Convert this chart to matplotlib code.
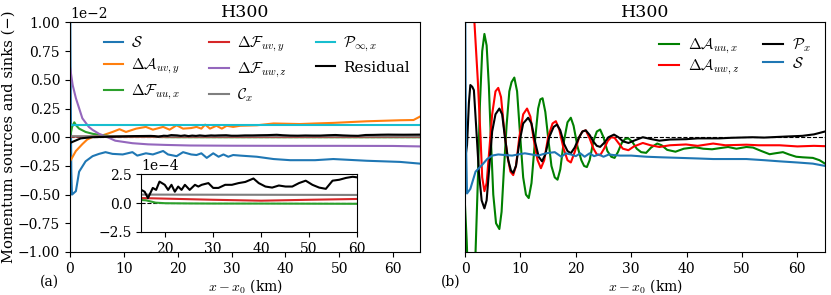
import matplotlib

matplotlib.use("Agg")

import matplotlib.pyplot as plt
import numpy as np

plt.rcParams["font.family"] = "serif"
plt.rcParams["font.serif"] = ["DejaVu Serif"]
plt.rcParams["mathtext.fontset"] = "cm"
plt.rcParams["font.size"] = 10

# ---------------- panel (a): values in units of 1e-2 ----------------
x_s = [0.0, 0.15, 0.25, 0.37, 1.1, 1.7, 2.9, 4.2, 5.4, 6.6, 7.9, 9.8, 11.6, 12.5,
       14.1, 15.4, 17.3, 18.2, 19.8, 21.0, 22.5, 23.5, 24.4, 25.4, 26.6, 27.6,
       28.5, 29.4, 30.3, 31.6, 34.7, 37.8, 40.9, 45.5, 48.9, 55.1, 61.3, 65.0]
s_a = [1.5, 0.3, -0.3, -0.5, -0.47, -0.30, -0.21, -0.165, -0.145, -0.13, -0.145,
       -0.15, -0.13, -0.16, -0.14, -0.15, -0.12, -0.15, -0.165, -0.13, -0.15,
       -0.155, -0.14, -0.18, -0.14, -0.17, -0.15, -0.17, -0.155, -0.16, -0.17,
       -0.19, -0.2, -0.2, -0.19, -0.205, -0.215, -0.23]

x_auv = [0.0, 0.5, 1.1, 2.3, 3.2, 4.2, 6.1, 7.9, 9.2, 10.4, 12.3, 14.1, 15.4, 17.3,
         18.5, 19.8, 21.0, 22.5, 23.5, 24.4, 25.1, 26.0, 27.2, 28.2, 29.1, 30.3,
         31.6, 34.7, 37.8, 42.7, 45.5, 48.9, 55.1, 61.3, 63.8, 65.0]
a_uvy = [-0.21, -0.17, -0.12, -0.06, -0.02, 0.003, 0.017, 0.046, 0.07, 0.046, 0.075,
         0.09, 0.066, 0.09, 0.066, 0.104, 0.075, 0.08, 0.09, 0.075, 0.11, 0.075,
         0.1, 0.075, 0.1, 0.09, 0.1, 0.104, 0.12, 0.115, 0.12, 0.125, 0.139, 0.148,
         0.15, 0.18]

x_fuw = [0.0, 0.5, 1.1, 2.3, 3.5, 4.2, 5.4, 6.7, 8.4, 11.6, 14.5, 17.8, 22.3, 30.0,
         40.0, 50.0, 60.0, 65.0]
f_uwz = [0.615, 0.455, 0.34, 0.165, 0.09, 0.064, 0.03, 0.006, -0.03, -0.052, -0.062,
         -0.067, -0.072, -0.074, -0.075, -0.075, -0.076, -0.08]

x_pinf = [0.0, 65.0]
p_inf = [0.105, 0.105]

# ---------------- small terms: values in units of 1e-4 ----------------
x_fuu = [0.0, 0.4, 0.8, 1.2, 1.7, 2.9, 4.2, 6.0, 8.0, 10.0, 15.0, 16.0, 17.0, 18.0,
         20.0, 25.0, 30.0, 40.0, 50.0, 60.0, 65.0]
f_uux = [0.0, 9.0, 13.0, 10.0, 7.5, 4.6, 3.0, 1.7, 0.8, 0.5, 0.28, 0.25, 0.15, 0.05,
         0.0, -0.02, -0.03, -0.03, -0.04, -0.05, -0.05]

x_fuv = [0.0, 15.0, 20.0, 30.0, 40.0, 50.0, 60.0, 65.0]
f_uvy = [0.5, 0.45, 0.4, 0.3, 0.22, 0.3, 0.37, 0.38]

x_cx = [0.0, 15.0, 60.0, 65.0]
c_x = [0.8, 0.75, 0.72, 0.72]

x_res = [0.0, 1.0, 2.0, 4.0, 8.0, 12.0, 15.0, 15.7, 16.4, 17.4, 18.1, 18.8, 19.9,
         20.6, 21.3, 22.0, 22.7, 23.4, 24.1, 25.1, 26.2, 26.9, 27.6, 29.0, 30.0,
         31.1, 32.5, 33.9, 35.3, 36.7, 38.4, 39.5, 40.9, 42.3, 43.7, 45.1, 46.5,
         47.9, 49.3, 50.7, 52.1, 53.5, 54.9, 56.3, 57.7, 59.1, 60.0, 62.0, 65.0]
resid = [-5.0, -3.0, -1.0, 0.0, 0.5, 1.0, 1.16, 1.0, 0.45, 1.33, 1.16, 1.88, 1.6,
         1.16, 1.6, 1.0, 1.45, 1.16, 1.6, 1.16, 1.6, 1.45, 1.6, 1.75, 1.33, 1.33,
         1.6, 1.6, 1.75, 1.85, 2.15, 1.75, 1.45, 1.36, 1.54, 1.45, 1.45, 1.75, 1.96,
         1.6, 1.36, 1.25, 1.96, 2.04, 2.2, 2.3, 2.25, 2.2, 2.3]

# ---------------- panel (b): values in units of 1e-2 ----------------
x_auu = [0.0, 0.3, 0.6, 1.0, 1.5, 1.9, 2.3, 2.7, 3.1, 3.5, 3.9, 4.3, 4.7, 5.1, 5.6,
         6.2, 6.6, 7.0, 7.5, 8.0, 8.4, 8.9, 9.4, 9.9, 10.5, 11.0, 11.5, 12.0, 12.6,
         13.2, 13.6, 14.0, 14.5, 15.0, 15.6, 16.2, 16.7, 17.2, 17.8, 18.5, 19.1,
         19.6, 20.3, 21.0, 21.5, 22.0, 22.5, 23.2, 23.8, 24.4, 25.0, 25.7, 26.4,
         27.0, 27.6, 28.3, 28.9, 29.5, 30.2, 31.0, 31.8, 32.7, 33.6, 34.7, 35.5,
         36.5, 38.0, 39.5, 41.6, 43.0, 44.6, 46.0, 47.5, 49.0, 50.8, 52.0, 53.5,
         55.0, 56.0, 57.4, 58.5, 59.8, 61.0, 62.8, 64.0, 65.0]
a_uux = [-0.6, -0.9, -1.3, -1.6, -1.4, -1.0, -0.4, 0.3, 0.75, 0.9, 0.8, 0.45, -0.05,
         -0.5, -0.75, -0.8, -0.65, -0.3, 0.1, 0.4, 0.48, 0.52, 0.4, 0.05, -0.35,
         -0.5, -0.53, -0.4, -0.05, 0.25, 0.33, 0.34, 0.22, 0.0, -0.25, -0.35, -0.37,
         -0.28, -0.05, 0.13, 0.17, 0.1, -0.08, -0.2, -0.25, -0.26, -0.2, -0.03,
         0.05, 0.067, 0.0, -0.12, -0.17, -0.18, -0.13, -0.05, -0.015, -0.01, -0.04,
         -0.1, -0.13, -0.136, -0.09, -0.055, -0.07, -0.11, -0.126, -0.1, -0.087,
         -0.1, -0.105, -0.095, -0.085, -0.1, -0.085, -0.09, -0.12, -0.148, -0.14,
         -0.13, -0.15, -0.17, -0.175, -0.18, -0.2, -0.23]

x_auw = [0.0, 0.3, 1.0, 1.7, 2.3, 2.8, 3.1, 3.5, 3.9, 4.4, 4.9, 5.5, 6.0, 6.5, 7.0,
         7.6, 8.2, 8.7, 9.2, 9.8, 10.5, 11.2, 11.8, 12.4, 13.1, 13.7, 14.3, 15.0,
         15.8, 16.4, 17.0, 17.8, 18.5, 19.1, 19.8, 20.6, 21.2, 21.8, 22.5, 23.2,
         23.8, 24.4, 25.1, 25.8, 26.4, 27.0, 27.7, 28.5, 29.5, 30.5, 32.1, 33.5,
         35.1, 37.0, 39.9, 42.0, 44.8, 47.0, 50.8, 53.0, 56.8, 60.0, 63.0, 65.0]
a_uwz = [4.0, 3.0, 1.8, 1.0, 0.5, 0.0, -0.35, -0.47, -0.4, -0.1, 0.2, 0.4, 0.43,
         0.35, 0.1, -0.15, -0.3, -0.33, -0.25, 0.0, 0.2, 0.25, 0.18, -0.02, -0.2,
         -0.27, -0.2, 0.0, 0.12, 0.14, 0.07, -0.1, -0.2, -0.22, -0.13, 0.0, 0.05,
         0.06, -0.01, -0.1, -0.15, -0.157, -0.1, -0.03, 0.0, -0.005, -0.05, -0.1,
         -0.113, -0.08, -0.05, -0.07, -0.085, -0.07, -0.063, -0.075, -0.055, -0.07,
         -0.065, -0.07, -0.07, -0.08, -0.075, -0.078]

x_px = [0.0, 0.36, 0.7, 0.96, 1.3, 1.6, 2.0, 2.5, 3.0, 3.5, 3.9, 4.4, 4.9, 5.5, 6.2,
        6.7, 7.2, 7.8, 8.3, 8.7, 9.2, 9.8, 10.5, 11.4, 12.0, 12.7, 13.3, 13.9, 14.5,
        15.2, 16.0, 16.6, 17.2, 17.9, 18.5, 19.1, 19.8, 20.6, 21.2, 21.8, 22.5,
        23.2, 23.8, 24.4, 25.1, 25.9, 26.9, 27.7, 28.5, 29.5, 30.5, 32.1, 33.5,
        35.1, 37.0, 39.9, 42.0, 45.9, 48.0, 51.9, 54.0, 57.9, 60.9, 63.0, 65.0]
p_x = [-0.2, -0.07, 0.3, 0.455, 0.44, 0.41, 0.1, -0.3, -0.55, -0.62, -0.55, -0.25,
       0.05, 0.2, 0.25, 0.2, 0.0, -0.2, -0.29, -0.31, -0.25, -0.05, 0.12, 0.17,
       0.12, -0.05, -0.17, -0.21, -0.15, 0.0, 0.09, 0.11, 0.06, -0.06, -0.12, -0.14,
       -0.09, 0.0, 0.05, 0.06, 0.02, -0.04, -0.075, -0.084, -0.05, 0.0, 0.023, 0.0,
       -0.035, -0.05, -0.03, 0.0, -0.015, -0.03, -0.02, -0.017, -0.01, -0.01,
       -0.005, 0.0, -0.003, 0.006, 0.012, 0.025, 0.05]

x_sb = [0.0, 0.1, 0.2, 0.36, 0.96, 1.9, 3.1, 4.0, 4.9, 6.0, 7.2, 8.5, 9.6, 10.8,
        12.0, 13.2, 14.6, 16.2, 17.4, 18.2, 19.1, 20.0, 20.8, 21.6, 22.5, 23.3,
        24.2, 25.0, 26.0, 26.8, 28.0, 30.0, 32.8, 35.5, 38.8, 42.0, 44.8, 50.8,
        54.0, 56.8, 60.0, 62.8, 65.0]
s_b = [1.5, 0.5, -0.1, -0.49, -0.45, -0.3, -0.24, -0.19, -0.16, -0.15, -0.155,
       -0.16, -0.15, -0.14, -0.15, -0.16, -0.14, -0.13, -0.17, -0.14, -0.15, -0.165,
       -0.14, -0.17, -0.14, -0.165, -0.15, -0.17, -0.15, -0.155, -0.16, -0.16,
       -0.17, -0.175, -0.18, -0.185, -0.19, -0.19, -0.2, -0.21, -0.22, -0.23, -0.25]

E2 = 1e-2
E4 = 1e-4

fig = plt.figure(figsize=(8.31, 2.95), dpi=100)
ax1 = fig.add_axes([0.0842, 0.1458, 0.4212, 0.778])
ax2 = fig.add_axes([0.5596, 0.1458, 0.4332, 0.778], sharey=ax1)

# panel (a)
ax1.axhline(0, color="k", ls="--", lw=0.8)
ax1.plot(x_s, np.array(s_a) * E2, color="C0", label=r"$\mathcal{S}$")
ax1.plot(x_auv, np.array(a_uvy) * E2, color="C1", label=r"$\Delta\mathcal{A}_{uv,y}$")
ax1.plot(x_fuu, np.array(f_uux) * E4, color="C2", label=r"$\Delta\mathcal{F}_{uu,x}$")
ax1.plot(x_fuv, np.array(f_uvy) * E4, color="C3", label=r"$\Delta\mathcal{F}_{uv,y}$")
ax1.plot(x_fuw, np.array(f_uwz) * E2, color="C4", label=r"$\Delta\mathcal{F}_{uw,z}$")
ax1.plot(x_cx, np.array(c_x) * E4, color="C7", label=r"$\mathcal{C}_x$")
ax1.plot(x_pinf, np.array(p_inf) * E2, color="C9", label=r"$\mathcal{P}_{\infty,x}$")
ax1.plot(x_res, np.array(resid) * E4, color="k", label="Residual")
ax1.set_xlim(0, 65)
ax1.set_ylim(-0.01, 0.01)
ax1.set_yticks(np.arange(-1.0, 1.01, 0.25) * E2)
ax1.ticklabel_format(axis="y", style="sci", scilimits=(0, 0))
ax1.set_title("H300", fontsize=12.5, pad=4)
ax1.set_xlabel(r"$x-x_0$ (km)", labelpad=1)
ax1.set_ylabel("Momentum sources and sinks (−)", fontsize=10.6, labelpad=2)
ax1.legend(ncol=3, frameon=False, loc="upper right", fontsize=11,
           bbox_to_anchor=(1.01, 1.005), handlelength=1.3, handletextpad=0.5,
           columnspacing=1.9, labelspacing=0.42)

# inset
axin = fig.add_axes([0.170, 0.2136, 0.2596, 0.195])
axin.axhline(0, color="k", ls="--", lw=0.8)
axin.plot(x_fuu, np.array(f_uux) * E4, color="C2")
axin.plot(x_fuv, np.array(f_uvy) * E4, color="C3")
axin.plot(x_cx, np.array(c_x) * E4, color="C7")
axin.plot(x_res, np.array(resid) * E4, color="k")
axin.set_xlim(15, 60)
axin.set_ylim(-2.5e-4, 2.5e-4)
axin.set_yticks([-2.5e-4, 0.0, 2.5e-4])
axin.set_xticks([20, 30, 40, 50, 60])
axin.ticklabel_format(axis="y", style="sci", scilimits=(0, 0))

# panel (b)
ax2.axhline(0, color="k", ls="--", lw=0.8)
ax2.plot(x_auu, np.array(a_uux) * E2, color="green", label=r"$\Delta\mathcal{A}_{uu,x}$")
ax2.plot(x_auw, np.array(a_uwz) * E2, color="red", label=r"$\Delta\mathcal{A}_{uw,z}$")
ax2.plot(x_px, np.array(p_x) * E2, color="k", label=r"$\mathcal{P}_x$")
ax2.plot(x_sb, np.array(s_b) * E2, color="C0", label=r"$\mathcal{S}$")
ax2.set_xlim(0, 65)
ax2.set_title("H300", fontsize=12.5, pad=4)
ax2.set_xlabel(r"$x-x_0$ (km)", labelpad=1)
ax2.tick_params(axis="y", left=False, labelleft=False)
ax2.yaxis.offsetText.set_visible(False)
ax2.legend(ncol=2, frameon=False, loc="upper right", fontsize=11,
           bbox_to_anchor=(1.0, 1.0), handlelength=1.3, handletextpad=0.6,
           columnspacing=1.6, labelspacing=0.12)

fig.text(0.048, 0.03, "(a)", fontsize=10)
fig.text(0.530, 0.03, "(b)", fontsize=10)

fig.savefig("out.png", dpi=100)
